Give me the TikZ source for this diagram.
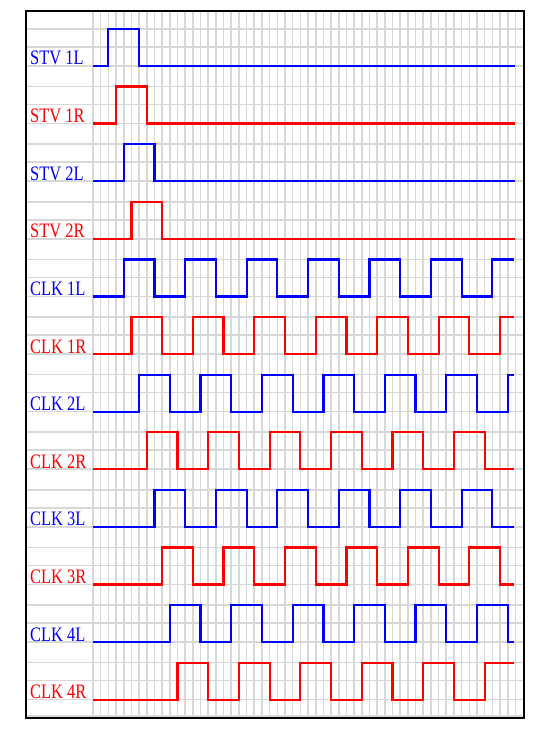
\documentclass[tikz,border=0pt]{standalone}
\usepackage{fontspec}
\setmainfont{Liberation Serif}
\usetikzlibrary{positioning}
\definecolor{sblue}{HTML}{0000FF}
\definecolor{sred}{HTML}{FF0000}
\definecolor{gridgray}{HTML}{D8D8D8}
\newcommand{\tallname}[1]{\scalebox{1}[1.25]{#1}}

\begin{document}
\begin{tikzpicture}[x=1bp,y=-1bp,
  sig/.style={line width=2.2bp,line join=miter},
  gridline/.style={draw=gridgray,line width=1.6bp},
  lbl/.style={anchor=base west,inner sep=0pt,font=\fontsize{16.5}{17}\selectfont}]
\useasboundingbox (0,0) rectangle (533,730);
\fill[white] (0,0) rectangle (533,730);
% time grid
\foreach \k in {0,...,55}
  \draw[gridline] (93+\k*7.68,11) -- (93+\k*7.68,718);
\foreach \r in {0,...,11} {
  \pgfmathsetmacro{\lo}{66+\r*57.6}
  \draw[gridline] (26,\lo) -- (524,\lo);
  \draw[gridline] (26,\lo-19) -- (524,\lo-19);
  \draw[gridline] (26,\lo-37) -- (524,\lo-37);
}
\draw[gridline] (26,716) -- (524,716);
\draw[line width=2.5bp] (26,11) rectangle (524,718);
% start pulses
\foreach \r/\name/\col in {0/STV 1L/sblue,1/STV 1R/sred,2/STV 2L/sblue,3/STV 2R/sred} {
  \pgfmathsetmacro{\lo}{66+\r*57.6}
  \pgfmathsetmacro{\ta}{93+(\r+2)*7.68}
  \pgfmathsetmacro{\tb}{93+(\r+6)*7.68}
  \node[lbl,text=\col] (lab\r) at (30,\lo-1) {\tallname{\name}};
  \draw[sig,\col] (93,\lo) -- (\ta,\lo) -- (\ta,\lo-37)
    -- (\tb,\lo-37) -- (\tb,\lo) -- (93+55*7.68,\lo);
}
% clocks
\begin{scope}
\clip (80,0) rectangle (93+55*7.68-1.6,730);
\foreach \r/\name/\col in {4/CLK 1L/sblue,5/CLK 1R/sred,6/CLK 2L/sblue,7/CLK 2R/sred,
    8/CLK 3L/sblue,9/CLK 3R/sred,10/CLK 4L/sblue,11/CLK 4R/sred} {
  \pgfmathsetmacro{\lo}{66+\r*57.6}
  \draw[sig,\col] (93,\lo) \foreach \c in {0,...,6} {
      -- ({93+(\r+8*\c)*7.68},\lo) -- ({93+(\r+8*\c)*7.68},\lo-37)
      -- ({93+(\r+8*\c+4)*7.68},\lo-37) -- ({93+(\r+8*\c+4)*7.68},\lo) }
    -- (93+60*7.68,\lo);
}
\end{scope}
\foreach \r/\name/\col in {4/CLK 1L/sblue,5/CLK 1R/sred,6/CLK 2L/sblue,7/CLK 2R/sred,
    8/CLK 3L/sblue,9/CLK 3R/sred,10/CLK 4L/sblue,11/CLK 4R/sred} {
  \pgfmathsetmacro{\lo}{66+\r*57.6}
  \node[lbl,text=\col] (lab\r) at (30,\lo-1) {\tallname{\name}};
}
\end{tikzpicture}
\end{document}
